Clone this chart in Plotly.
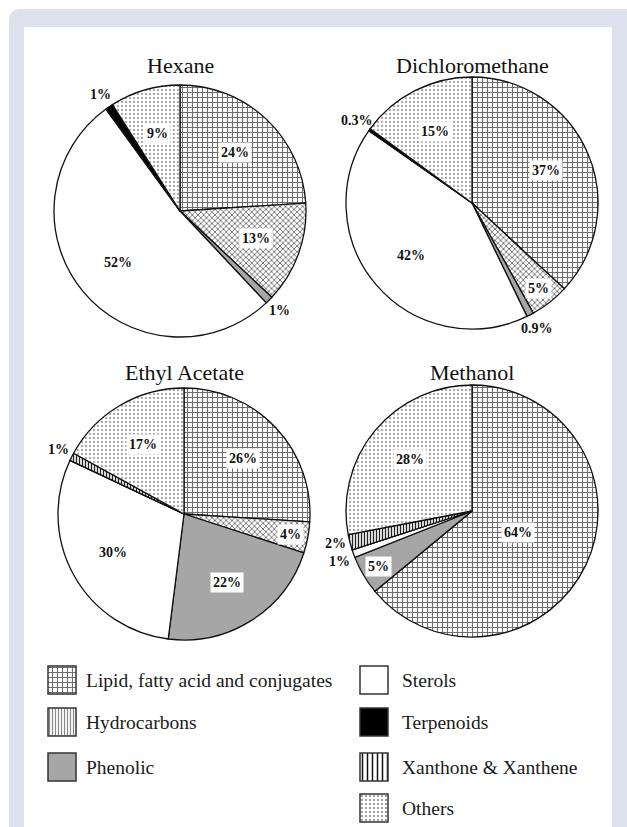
import math
import plotly.graph_objects as go

# ---------------- data ----------------
categories = ["Lipid, fatty acid and conjugates", "Hydrocarbons", "Phenolic",
              "Sterols", "Terpenoids", "Xanthone & Xanthene", "Others"]
solvents = ["Hexane", "Dichloromethane", "Ethyl Acetate", "Methanol"]
hexane = [24, 13, 1, 52, 1, 0, 9]
dichloromethane = [37, 5, 0.9, 42, 0.3, 0, 15]
ethyl_acetate = [26, 4, 22, 30, 0, 1, 17]
methanol = [64, 0, 5, 1, 0, 2, 28]
series = [hexane, dichloromethane, ethyl_acetate, methanol]

# ---------------- layout / style constants ----------------
W, H = 627, 827
PIE_CENTERS = [(180, 211), (472, 203), (184, 514), (472, 511)]
PIE_R = 126
TITLE_Y = [65, 65, 372, 372]
SERIF = "Liberation Serif, Times New Roman, serif"
LAVENDER = "#dde1ee"

# slice styles (pie)
slice_bg = ["white", "white", "#a6a6a6", "white", "black", "white", "white"]
slice_shape = ["+", "x", "", "", "", "|", "."]
slice_fg = ["#6e6e6e", "#666666", "#a6a6a6", "white", "black", "#222222", "#8a8a8a"]
slice_size = [5, 4, 8, 8, 8, 3, 4]
slice_sol = [0.38, 0.38, 0.3, 0.3, 0.3, 0.45, 0.18]

# legend swatch styles
leg_bg = ["white", "white", "#a6a6a6", "white", "black", "white", "white"]
leg_shape = ["+", "|", "", "", "", "|", "."]
leg_fg = ["#6e6e6e", "#8a8a8a", "#a6a6a6", "white", "black", "#111111", "#7a7a7a"]
leg_size = [5, 3, 8, 8, 8, 5, 4]
leg_sol = [0.38, 0.4, 0.3, 0.3, 0.3, 0.3, 0.18]
LEG_COL_X = [62, 374]          # swatch centre per column (px)
LEG_TEXT_X = [84, 400]
LEG_ROW_Y = [680, 722, 767, 808]
LEG_POS = [(0, 0), (0, 1), (0, 2), (1, 0), (1, 1), (1, 2), (1, 3)]
SW = 28


def px(x):
    return x / W


def py(y):
    return 1 - y / H


fig = go.Figure()
annotations = []


def label(x, y, txt, boxed):
    d = dict(x=px(x), y=py(y), xref="paper", yref="paper", xanchor="center",
             yanchor="middle", text=txt, showarrow=False,
             font=dict(family=SERIF, size=14, color="#111111", weight="bold"))
    if boxed:
        d.update(bgcolor="white", borderpad=2)
    return d


for name, vals, (cx, cy), ty in zip(solvents, series, PIE_CENTERS, TITLE_Y):
    fig.add_trace(go.Pie(
        labels=categories, values=vals, sort=False, direction="clockwise",
        rotation=0, textinfo="none", hoverinfo="label+value", showlegend=False,
        domain=dict(x=[px(cx - PIE_R), px(cx + PIE_R)],
                    y=[py(cy + PIE_R), py(cy - PIE_R)]),
        marker=dict(colors=slice_bg,
                    line=dict(color="#111111", width=1.3),
                    pattern=dict(shape=slice_shape, fgcolor=slice_fg, bgcolor=slice_bg,
                                 size=slice_size, solidity=slice_sol, fillmode="replace")),
    ))
    annotations.append(dict(x=px(cx), y=py(ty), xref="paper", yref="paper",
                            xanchor="center", yanchor="middle",
                            text=name, showarrow=False,
                            font=dict(family=SERIF, size=22, color="#111111")))
    total = sum(vals)
    cum = 0.0
    outside = []
    for v in vals:
        if v <= 0:
            continue
        mid = (cum + v / 2) / total * 2 * math.pi
        cum += v
        txt = f"{v:g}%"
        if v < 2.5:
            f = 1.12
        elif v <= 5:
            f = 0.86
        elif v > 60:
            f = 0.4
        else:
            f = 0.64
        x = cx + f * PIE_R * math.sin(mid)
        y = cy - f * PIE_R * math.cos(mid)
        if f > 1:
            outside.append([x, y, txt])
        else:
            annotations.append(label(x, y, txt, True))
    outside.sort(key=lambda o: o[1])
    for i in range(1, len(outside)):
        if abs(outside[i][0] - outside[i - 1][0]) < 30 and outside[i][1] - outside[i - 1][1] < 18:
            d = 18 - (outside[i][1] - outside[i - 1][1])
            outside[i - 1][1] -= d / 2
            outside[i][1] += d / 2
    for x, y, txt in outside:
        annotations.append(label(x, y, txt, False))

# ---------------- legend (custom, bar swatches) ----------------
for i, cat in enumerate(categories):
    col, row = LEG_POS[i]
    fig.add_trace(go.Bar(
        x=[LEG_COL_X[col]], y=[SW], base=[LEG_ROW_Y[row] - SW / 2], width=[SW],
        xaxis="x", yaxis="y", showlegend=False, hoverinfo="skip",
        marker=dict(color=leg_bg[i], line=dict(color="#333333", width=1.5),
                    pattern=dict(shape=leg_shape[i], fgcolor=leg_fg[i], bgcolor=leg_bg[i],
                                 size=leg_size[i], solidity=leg_sol[i], fillmode="replace")),
    ))
    annotations.append(dict(x=LEG_TEXT_X[col], y=LEG_ROW_Y[row], xref="x", yref="y",
                            text=cat, showarrow=False, xanchor="left", yanchor="middle",
                            font=dict(family=SERIF, size=19.5, color="#1a1a1a")))

LEG_TOP = 650
shapes = [
    dict(type="path", xref="paper", yref="paper", layer="below",
         path=(f"M {px(9)},{py(21)} Q {px(9)},{py(9)} {px(21)},{py(9)} "
               f"L 1,{py(9)} L 1,0 L {px(9)},0 Z"),
         fillcolor=LAVENDER, line=dict(width=0)),
    dict(type="rect", xref="paper", yref="paper", layer="below",
         x0=px(24), x1=px(612), y0=0, y1=py(27),
         fillcolor="white", line=dict(width=0)),
]

fig.update_layout(
    width=W, height=H, margin=dict(l=0, r=0, t=0, b=0),
    paper_bgcolor="white", plot_bgcolor="rgba(0,0,0,0)",
    xaxis=dict(domain=[0, 1], range=[0, W], visible=False, fixedrange=True),
    yaxis=dict(domain=[0, py(LEG_TOP)], range=[H, LEG_TOP], visible=False, fixedrange=True),
    barmode="overlay",
    annotations=annotations, shapes=shapes,
)

fig.write_html("out.html")
